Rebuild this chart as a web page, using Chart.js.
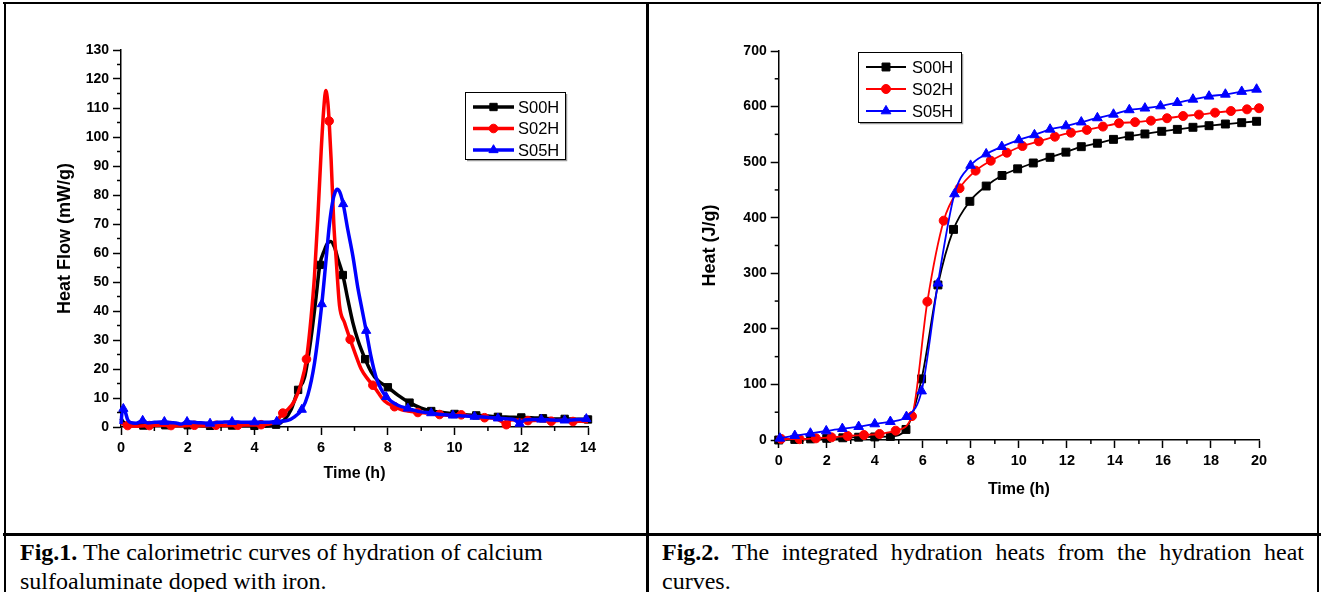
<!DOCTYPE html>
<html><head><meta charset="utf-8">
<script src="https://cdn.jsdelivr.net/npm/chart.js@4.4.1/dist/chart.umd.min.js"></script>
<style>
html,body{margin:0;padding:0;background:#fff;width:1321px;height:592px;overflow:hidden;position:relative;}
.ln{position:absolute;background:#000;}
canvas{position:absolute;top:0;}
.cap{position:absolute;font-family:"Liberation Serif","Times New Roman",serif;font-size:24px;line-height:29px;color:#000;}
</style></head><body>
<canvas id="c1" width="648" height="534" style="left:0px"></canvas>
<canvas id="c2" width="668" height="534" style="left:650px"></canvas>
<div class="ln" style="left:3px;top:2px;width:1318px;height:2px"></div>
<div class="ln" style="left:4px;top:2px;width:2px;height:600px"></div>
<div class="ln" style="left:646px;top:2px;width:3px;height:600px"></div>
<div class="ln" style="left:1317px;top:2px;width:2px;height:600px"></div>
<div class="ln" style="left:3px;top:533px;width:1318px;height:3px"></div>
<div class="cap" style="left:20px;top:538px;width:620px"><b>Fig.1.</b> The calorimetric curves of hydration of calcium<br>sulfoaluminate doped with iron.</div>
<div class="cap" style="left:662px;top:538px;width:642px;text-align:justify"><b>Fig.2.</b> The integrated hydration heats from the hydration heat curves.</div>
<script>
// ---------- Fig.1 : heat flow (mW/g) vs time (h) ----------
const flowS00H_t = [0,0.05,0.15,0.3,0.67,1.0,1.33,1.67,2.0,2.33,2.67,3.0,3.33,3.67,4.0,4.3,4.5,4.65,4.9,5.1,5.31,5.5,5.7,5.85,5.96,6.1,6.2,6.29,6.4,6.5,6.65,6.8,6.95,7.1,7.32,7.5,7.7,8.0,8.3,8.65,9.0,9.3,9.65,10.0,10.3,10.65,11.0,11.3,11.65,12.0,12.3,12.65,13.0,13.3,13.65,14.0];
const flowS00H_v = [3,2,1,0.5,0.5,0.8,0.6,0.5,0.6,0.5,0.4,0.5,0.5,0.4,0.4,0.3,0.4,0.8,2.5,6,12.8,17,31,45,55.9,61,63.5,64,62,58,52.4,44,36,30,23.4,19,16,13.7,11,8.4,6.5,5.5,5,4.5,4.2,4,3.8,3.5,3.4,3.3,3.2,3.0,2.8,2.8,2.7,2.6];
const flowS00H_marks = [0.67,1.33,2.0,2.67,3.33,4.0,4.65,5.31,5.96,6.65,7.32,8.0,8.65,9.3,10.0,10.65,11.3,12.0,12.65,13.3,14.0];

const flowS02H_t = [0,0.1,0.2,0.5,0.85,1.2,1.5,1.85,2.2,2.5,2.85,3.2,3.5,3.85,4.2,4.5,4.7,4.85,5.0,5.2,5.4,5.56,5.7,5.8,5.9,6.0,6.08,6.14,6.2,6.24,6.3,6.38,6.45,6.55,6.7,6.87,7.0,7.2,7.4,7.55,7.7,7.9,8.2,8.4,8.6,8.9,9.2,9.55,9.9,10.2,10.55,10.9,11.2,11.4,11.55,11.7,11.9,12.2,12.55,12.9,13.2,13.55,13.8,14.0];
const flowS02H_v = [1.5,0.8,0.5,0.3,0.5,0.6,0.5,0.4,0.6,0.4,0.6,0.5,0.6,0.7,0.8,1.2,2.5,4.8,6,9,15,23.4,38,52,72,95,110,116,112,105.5,92,70,58,42,36,30.2,26,20,16.5,14.4,12,9,7,6,5.5,5,4.8,4.3,4.0,4.2,3.5,3.2,3.0,2.0,0.8,2.5,2.4,2.2,2.3,2.0,2.3,1.9,2.0,1.8];
const flowS02H_marks = [0.2,0.85,1.5,2.2,2.85,3.5,4.2,4.85,5.56,6.24,6.87,7.55,8.2,8.9,9.55,10.2,10.9,11.55,12.2,12.9,13.55];

const flowS05H_t = [0,0.03,0.07,0.12,0.2,0.3,0.45,0.65,0.8,1.0,1.3,1.5,1.65,1.8,1.98,2.3,2.5,2.67,2.9,3.1,3.33,3.67,4.0,4.35,4.67,5.0,5.2,5.42,5.6,5.8,6.02,6.15,6.25,6.35,6.42,6.48,6.56,6.66,6.8,6.95,7.1,7.2,7.35,7.5,7.65,7.8,7.95,8.3,8.6,8.95,9.3,9.6,9.95,10.3,10.6,10.95,11.3,11.6,11.8,11.95,12.1,12.3,12.6,12.95,13.3,13.6,13.95,14.0];
const flowS05H_v = [1,5,6.3,5.5,2.5,1.5,1.3,2.2,1.4,1.6,1.8,1.5,1.4,1.0,1.8,1.5,1.4,1.2,1.6,1.7,1.8,1.6,1.7,1.6,1.9,2.3,3.5,6,11,22,42.4,58,70,78,81,82,81,76.9,68,59,48,42,33.2,24,17,13,10.4,7.5,6.4,5.3,4.8,4.3,4.0,3.8,3.6,3.4,3.0,2.8,2.5,1.2,2.4,2.6,2.6,2.4,2.3,2.5,2.8,3];
const flowS05H_marks = [0.07,0.65,1.3,1.98,2.67,3.33,4.0,4.67,5.42,6.02,6.66,7.35,7.95,8.6,9.3,9.95,10.6,11.3,11.95,12.6,13.3,13.95];

const flowMinorX = [1,3,5,7,9,11,13];
const flowMinorY = [5,15,25,35,45,55,65,75,85,95,105,115,125];

// ---------- Fig.2 : integrated heat (J/g) vs time (h) ----------
const heatS00H_t = [0,0.67,1.33,2.0,2.67,3.33,4.0,4.65,5.3,5.95,6.63,7.28,7.96,8.64,9.3,9.95,10.6,11.3,11.96,12.6,13.27,13.94,14.6,15.25,15.95,16.6,17.25,17.92,18.6,19.28,19.9];
const heatS00H_v = [0,1,2,3,4,5,5.5,6.5,19,110,279,379,429.5,457,476,488,498.5,508.7,518,527.8,534,541,547,550.7,555.5,559,562.7,565.6,568.6,571,573.5];
const heatS02H_t = [0.1,0.87,1.55,2.2,2.87,3.55,4.2,4.87,5.55,6.19,6.87,7.53,8.2,8.83,9.5,10.15,10.83,11.5,12.17,12.83,13.5,14.17,14.84,15.5,16.17,16.84,17.5,18.17,18.83,19.5,20];
const heatS02H_v = [2,1.5,3,4.8,7.2,9,10.8,16.8,43,249,394.7,453,484.7,502.6,517,529,537.5,545.8,553,558,564,570,572,574.6,579,583,585.5,589,592,595,597];
const heatS05H_t = [0.05,0.67,1.32,1.98,2.65,3.33,4.0,4.65,5.32,5.95,6.63,7.32,7.99,8.64,9.29,10.0,10.65,11.3,11.96,12.6,13.27,13.94,14.6,15.25,15.9,16.6,17.25,17.92,18.6,19.28,19.9];
const heatS05H_v = [3,7.8,12,16.2,20.4,24,28.8,33,42,88,282,442.7,494,514.6,527.8,540,549,559,565,572,579.5,586,594,597,601,607,613,618.5,622,627,631];

const heatMinorX = [1,3,5,7,9,11,13,15,17,19];
const heatMinorY = [50,150,250,350,450,550,650];

const seriesNames = ['S00H','S02H','S05H'];
// ------------------------------------------------------------

const pts = (t, v) => t.map((x, i) => ({x: x, y: v[i]}));
const SANS = '"Liberation Sans", Arial, Helvetica, sans-serif';

const decor = {
  id: 'decor',
  afterDraw(chart, args, o) {
    const ctx = chart.ctx;
    const xs = chart.scales.x, ys = chart.scales.y;
    ctx.save();
    ctx.strokeStyle = '#000'; ctx.lineWidth = o.tickW;
    o.xMinor.forEach(v => { const p = xs.getPixelForValue(v); ctx.beginPath(); ctx.moveTo(p, xs.top); ctx.lineTo(p, xs.top + o.minorLen); ctx.stroke(); });
    o.yMinor.forEach(v => { const p = ys.getPixelForValue(v); ctx.beginPath(); ctx.moveTo(ys.right, p); ctx.lineTo(ys.right - o.minorLen, p); ctx.stroke(); });
    const b = o.box;
    ctx.fillStyle = '#fff'; ctx.fillRect(b.x, b.y, b.w, b.h);
    ctx.strokeStyle = '#9a9a9a'; ctx.lineWidth = 1.5;
    ctx.beginPath(); ctx.moveTo(b.x + b.w + 1.5, b.y + 2); ctx.lineTo(b.x + b.w + 1.5, b.y + b.h + 1.5); ctx.lineTo(b.x + 2, b.y + b.h + 1.5); ctx.stroke();
    ctx.strokeStyle = '#000'; ctx.lineWidth = 1; ctx.strokeRect(b.x + 0.5, b.y + 0.5, b.w, b.h);
    chart.data.datasets.forEach((ds, i) => {
      const y = b.rowY + i * b.rowH;
      ctx.strokeStyle = ds.borderColor; ctx.lineWidth = ds.borderWidth;
      ctx.beginPath(); ctx.moveTo(b.lx1, y); ctx.lineTo(b.lx2, y); ctx.stroke();
      ctx.fillStyle = ds.borderColor; ctx.strokeStyle = ds.borderColor; ctx.lineWidth = 1;
      Chart.helpers.drawPoint(ctx, {pointStyle: ds.pointStyle, radius: ds.legendRadius, rotation: 0, borderWidth: 1}, (b.lx1 + b.lx2) / 2, y);
      ctx.fillStyle = '#000'; ctx.font = o.font; ctx.textBaseline = 'middle'; ctx.textAlign = 'left';
      ctx.fillText(ds.label, b.tx, y + 1);
    });
    ctx.restore();
  }
};

function axes(cfg) {
  return {
    x: {
      type: 'linear', min: cfg.xmin, max: cfg.xmax,
      afterFit(s) { s.height = cfg.xH; s.paddingLeft = 0; s.paddingRight = 0; },
      border: {display: true, color: '#000', width: 1.5},
      grid: {display: true, drawOnChartArea: false, drawTicks: true, tickLength: 8, tickColor: '#000', tickWidth: 1.5},
      ticks: {stepSize: cfg.xStep, color: '#000', padding: 4, maxRotation: 0, font: {family: SANS, size: 14.5, weight: 'bold'}},
      title: {display: true, text: 'Time (h)', color: '#000', font: {family: SANS, size: 16, weight: 'bold'}, padding: {top: 0, bottom: cfg.xTitlePad}}
    },
    y: {
      type: 'linear', min: cfg.ymin, max: cfg.ymax,
      afterFit(s) { s.width = cfg.yW; s.paddingTop = 0; s.paddingBottom = 0; },
      border: {display: true, color: '#000', width: 1.5},
      grid: {display: true, drawOnChartArea: false, drawTicks: true, tickLength: 8, tickColor: '#000', tickWidth: 1.5},
      ticks: {stepSize: cfg.yStep, color: '#000', padding: 4, font: {family: SANS, size: 14, weight: 'bold'}},
      title: {display: true, text: cfg.yTitle, color: '#000', font: {family: SANS, size: 18, weight: 'bold'}, padding: {top: cfg.yTitlePad, bottom: 0}}
    }
  };
}

// Fig.1
const flowSets = [
  {t: flowS00H_t, v: flowS00H_v, m: flowS00H_marks, c: '#000000', s: 'rect', r: 5.2, o: 2},
  {t: flowS02H_t, v: flowS02H_v, m: flowS02H_marks, c: '#ff0000', s: 'circle', r: 4.3, o: 1},
  {t: flowS05H_t, v: flowS05H_v, m: flowS05H_marks, c: '#0000ff', s: 'triangle', r: 5.3, o: 0}
];
new Chart(document.getElementById('c1'), {
  type: 'line',
  data: {
    datasets: flowSets.map((d, i) => ({
      label: seriesNames[i], data: pts(d.t, d.v), order: d.o,
      borderColor: d.c, backgroundColor: d.c, borderWidth: 3.5,
      pointStyle: d.s, legendRadius: d.r,
      pointRadius: c => (c.raw && d.m.includes(c.raw.x)) ? d.r : 0,
      pointBorderWidth: 1, pointBackgroundColor: d.c, pointBorderColor: d.c,
      cubicInterpolationMode: 'monotone', fill: false, clip: false
    }))
  },
  options: {
    responsive: false, animation: false, events: [],
    layout: {padding: {left: 40, right: 60, top: 50, bottom: 47}},
    scales: axes({xmin: 0, xmax: 14, xStep: 2, ymin: 0, ymax: 130, yStep: 10, xH: 60, yW: 81, xTitlePad: 3.4, yTitlePad: 14.2, yTitle: 'Heat Flow (mW/g)'}),
    plugins: {
      legend: {display: false}, tooltip: {enabled: false},
      decor: {xMinor: flowMinorX, yMinor: flowMinorY, minorLen: 4, tickW: 1.5, font: '16.5px ' + SANS,
        box: {x: 465, y: 92, w: 100, h: 67, rowY: 107, rowH: 21.5, lx1: 473, lx2: 514, tx: 518}}
    }
  },
  plugins: [decor]
});

// Fig.2
const heatSets = [
  {t: heatS00H_t, v: heatS00H_v, c: '#000000', s: 'rect', r: 5.6, o: 2},
  {t: heatS02H_t, v: heatS02H_v, c: '#ff0000', s: 'circle', r: 4.5, o: 1},
  {t: heatS05H_t, v: heatS05H_v, c: '#0000ff', s: 'triangle', r: 5.6, o: 0}
];
new Chart(document.getElementById('c2'), {
  type: 'line',
  data: {
    datasets: heatSets.map((d, i) => ({
      label: seriesNames[i], data: pts(d.t, d.v), order: d.o,
      borderColor: d.c, backgroundColor: d.c, borderWidth: 1.8,
      pointStyle: d.s, legendRadius: d.r, pointRadius: d.r,
      pointBorderWidth: 1, pointBackgroundColor: d.c, pointBorderColor: d.c,
      cubicInterpolationMode: 'monotone', fill: false, clip: false
    }))
  },
  options: {
    responsive: false, animation: false, events: [],
    layout: {padding: {left: 35, right: 59, top: 51, bottom: 32}},
    scales: axes({xmin: 0, xmax: 20, xStep: 2, ymin: 0, ymax: 700, yStep: 100, xH: 62, yW: 93.7, xTitlePad: 2.4, yTitlePad: 14.2, yTitle: 'Heat (J/g)'}),
    plugins: {
      legend: {display: false}, tooltip: {enabled: false},
      decor: {xMinor: heatMinorX, yMinor: heatMinorY, minorLen: 4, tickW: 1.5, font: '16.5px ' + SANS,
        box: {x: 208, y: 52, w: 103, h: 70, rowY: 67, rowH: 22, lx1: 216, lx2: 256, tx: 262}}
    }
  },
  plugins: [decor]
});
</script>
</body></html>
